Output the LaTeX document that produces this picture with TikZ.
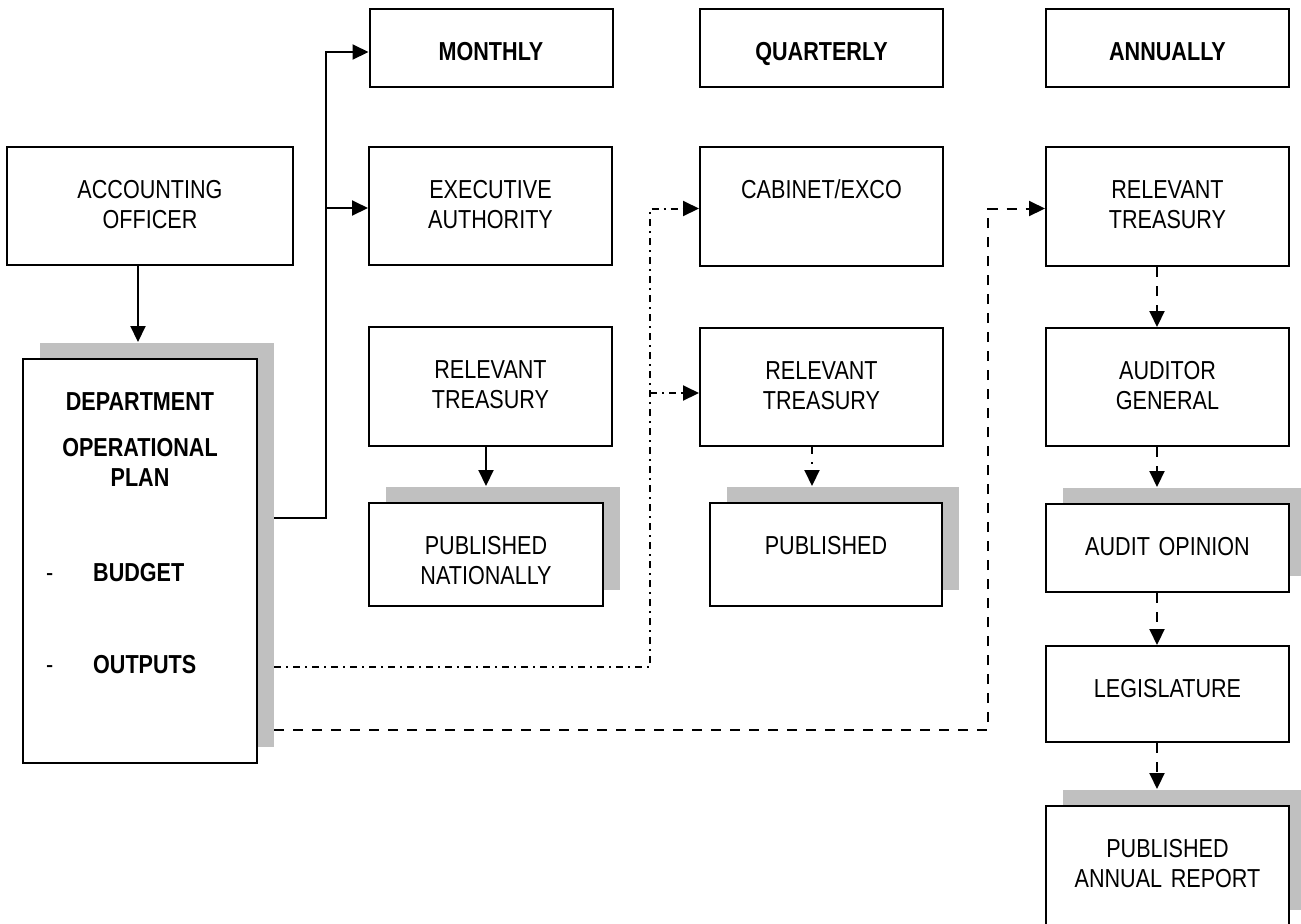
\documentclass[tikz,border=0pt]{standalone}
\usepackage{fontspec}
\setmainfont{Liberation Sans}[FakeStretch=0.83]
\usetikzlibrary{arrows.meta,shadows,calc}
\definecolor{shade}{RGB}{192,192,192}
\tikzset{
  box/.style={draw, line width=1pt, fill=white, inner sep=0pt, minimum width=121.5pt},
  shadowed/.style={general shadow={fill=shade, draw=none, shadow xshift=8.5pt, shadow yshift=8pt}},
  txt/.style={anchor=base, inner sep=0pt, text width=140pt, align=center,
              font=\fontsize{13pt}{15pt}\selectfont},
  conn/.style={line width=1pt, -{Triangle[length=8pt,width=7.5pt]}},
  dashdot/.style={dash pattern=on 3.5pt off 2.5pt on 1pt off 2.5pt},
  dashline/.style={dash pattern=on 5pt off 4.5pt},
  dotdash/.style={dash pattern=on 3.5pt off 4pt on 1pt off 4pt},
}
\begin{document}
\begin{tikzpicture}[x=0.5pt,y=-0.5pt]
\useasboundingbox (0,0) rectangle (1301,923);

% boxes
\node[box, minimum width=143pt, minimum height=59pt] (acc) at (150,206) {};
\node[box, shadowed, minimum width=117pt, minimum height=202pt] (dept) at (140,561) {};
\node[box, minimum height=39pt] (mon) at (491,48) {};
\node[box, minimum height=39pt] (qtr) at (821.5,48) {};
\node[box, minimum height=39pt] (ann) at (1167.5,48) {};
\node[box, minimum height=59pt] (exec) at (490.5,206) {};
\node[box, minimum height=59.5pt] (cab) at (821.5,206.5) {};
\node[box, minimum height=59.5pt] (rta) at (1167.5,206.5) {};
\node[box, minimum height=59.5pt] (rtm) at (490.5,386.5) {};
\node[box, minimum height=59pt] (rtq) at (821.5,387) {};
\node[box, minimum height=59pt] (ag) at (1167.5,387) {};
\node[box, shadowed, minimum width=117pt, minimum height=51.5pt] (pubn) at (486,554.5) {};
\node[box, shadowed, minimum width=116pt, minimum height=51.5pt] (pubq) at (826,554.5) {};
\node[box, shadowed, minimum height=44pt] (opin) at (1167.5,548) {};
\node[box, minimum height=48pt] (leg) at (1167.5,694) {};
\node[box, shadowed, minimum height=60pt] (pubar) at (1167.5,866) {};

% box texts, first line set at a fixed depth below the box top
\node[txt] (accT) at ([yshift=-26.4pt]acc.north) {ACCOUNTING\\OFFICER};
\node[txt] (deptT) at ([yshift=-26.4pt]dept.north)
  {\textbf{DEPARTMENT}\\[8pt]\textbf{OPERATIONAL}\\\textbf{PLAN}\\[32.5pt]
   \makebox[94pt][l]{-\hspace{20pt}\textbf{BUDGET}}\\[31pt]
   \makebox[94pt][l]{-\hspace{20pt}\textbf{OUTPUTS}}};
\node[txt] (monT) at ([yshift=-26.4pt]mon.north) {\textbf{MONTHLY}};
\node[txt] (qtrT) at ([yshift=-26.4pt]qtr.north) {\textbf{QUARTERLY}};
\node[txt] (annT) at ([yshift=-26.4pt]ann.north) {\textbf{ANNUALLY}};
\node[txt] (execT) at ([yshift=-26.4pt]exec.north) {EXECUTIVE\\AUTHORITY};
\node[txt] (cabT) at ([yshift=-26.4pt]cab.north) {CABINET/EXCO};
\node[txt] (rtaT) at ([yshift=-26.4pt]rta.north) {RELEVANT\\TREASURY};
\node[txt] (rtmT) at ([yshift=-26.4pt]rtm.north) {RELEVANT\\TREASURY};
\node[txt] (rtqT) at ([yshift=-26.4pt]rtq.north) {RELEVANT\\TREASURY};
\node[txt] (agT) at ([yshift=-26.4pt]ag.north) {AUDITOR\\GENERAL};
\node[txt] (pubnT) at ([yshift=-26.4pt]pubn.north) {PUBLISHED\\NATIONALLY};
\node[txt] (pubqT) at ([yshift=-26.4pt]pubq.north) {PUBLISHED};
\node[txt] (opinT) at ([yshift=-26.4pt]opin.north) {AUDIT OPINION};
\node[txt] (legT) at ([yshift=-26.4pt]leg.north) {LEGISLATURE};
\node[txt] (pubarT) at ([yshift=-26.4pt]pubar.north) {PUBLISHED\\ANNUAL REPORT};

% routing points
\coordinate (colD) at (138,0);
\coordinate (jm) at (326,518);
\coordinate (jq) at (650,667);
\coordinate (ja) at (988,730);
\coordinate (colQ) at (812,0);
\coordinate (colA) at (1157,0);
\coordinate (monIn) at ([yshift=-2pt]mon.west);
\coordinate (execIn) at ([yshift=-1pt]exec.west);
\coordinate (cabIn) at ([yshift=-1pt]cab.west);
\coordinate (rtqIn) at ([yshift=-3pt]rtq.west);
\coordinate (rtaIn) at ([yshift=-1pt]rta.west);

% solid connectors (arrows into shadowed boxes stop at the shadow)
\draw[conn, shorten >=8pt] (colD |- acc.south) -- (colD |- dept.north);
\draw[conn, shorten <=8pt] (dept.east |- jm) -- (jm) |- (monIn);
\draw[conn] (jm |- execIn) -- (execIn);
\draw[conn, shorten >=8pt] (pubn.north |- rtm.south) -- (pubn.north);

% quarterly (dash-dot) connectors
\draw[conn, dashdot, shorten <=8pt] (dept.east |- jq) -- (jq) |- (cabIn);
\draw[conn, dashdot] (jq |- rtqIn) -- (rtqIn);
\draw[conn, dotdash, shorten >=8pt] (colQ |- rtq.south) -- (colQ |- pubq.north);

% annual (dashed) connectors
\draw[conn, dashline, shorten <=8pt] (dept.east |- ja) -- (ja) |- (rtaIn);
\draw[conn, dashline] (colA |- rta.south) -- (colA |- ag.north);
\draw[conn, dashline, shorten >=8pt] (colA |- ag.south) -- (colA |- opin.north);
\draw[conn, dashline] (colA |- opin.south) -- (colA |- leg.north);
\draw[conn, dashline, shorten >=8pt] (colA |- leg.south) -- (colA |- pubar.north);
\end{tikzpicture}
\end{document}
